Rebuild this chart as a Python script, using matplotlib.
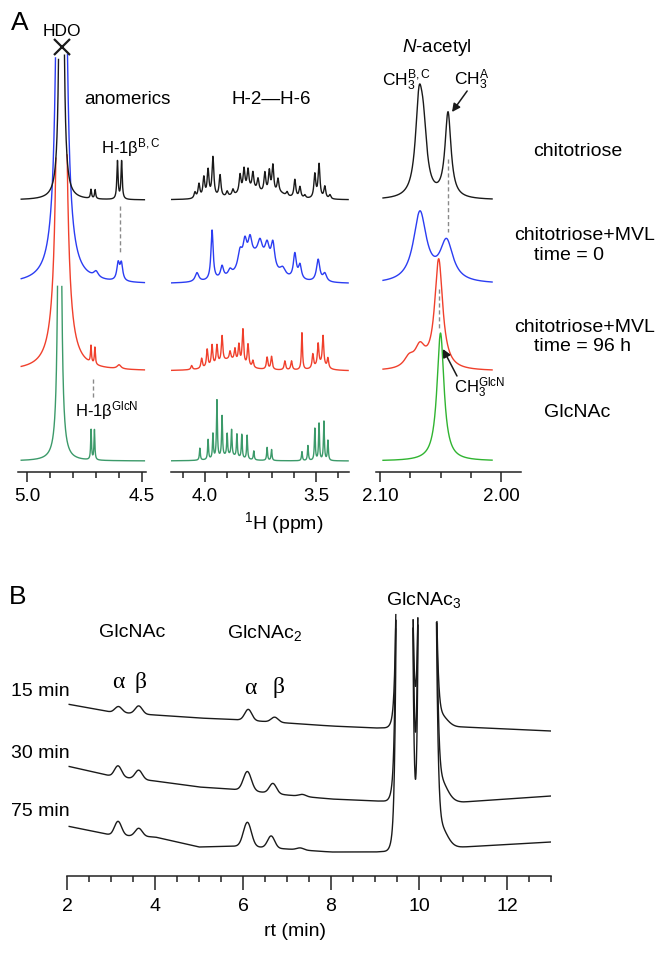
import numpy as np
import matplotlib.pyplot as plt

plt.rcParams['font.family'] = 'Liberation Sans'
plt.rcParams['mathtext.fontset'] = 'custom'
plt.rcParams['mathtext.rm'] = 'Liberation Sans'
plt.rcParams['mathtext.it'] = 'Liberation Sans:italic'
plt.rcParams['mathtext.bf'] = 'Liberation Sans:bold'

W, H = 669, 954

# ---------------- panel A: 1H NMR peak tables, (ppm, height, half width)
black_anom = [(4.850, 3000, 0.0029), (4.722, 9, 0.003), (4.704, 9, 0.003),
              (4.607, 38, 0.0032), (4.589, 38, 0.0032)]
black_sugar = [(4.045, 6, 0.005), (4.027, 14, 0.005), (4.005, 20, 0.005), (3.986, 27, 0.005),
               (3.964, 40, 0.005), (3.932, 22, 0.005), (3.900, 5, 0.005), (3.874, 6, 0.005),
               (3.842, 18, 0.005), (3.824, 22, 0.005), (3.806, 20, 0.005), (3.784, 17, 0.005),
               (3.761, 12, 0.005), (3.730, 20, 0.005), (3.710, 22, 0.005), (3.694, 28, 0.005),
               (3.671, 14, 0.005), (3.630, 4, 0.005), (3.595, 18, 0.005), (3.572, 11, 0.005),
               (3.550, 3, 0.005), (3.505, 24, 0.005), (3.486, 34, 0.005), (3.460, 12, 0.005),
               (3.437, 4, 0.005), (3.790, 9, 0.07), (3.66, 4, 0.03)]
black_nac = [(2.0678, 86, 0.0035), (2.0642, 54, 0.0035), (2.0438, 85, 0.0030)]

blue_anom = [(4.850, 5000, 0.0057), (4.700, 6, 0.012), (4.604, 17, 0.007), (4.590, 17, 0.007)]
blue_sugar = [(3.770, 26, 0.070), (4.036, 9, 0.010), (3.968, 50, 0.006), (3.923, 12, 0.008),
              (3.887, 6, 0.010), (3.842, 18, 0.012), (3.820, 22, 0.010), (3.797, 20, 0.010),
              (3.752, 16, 0.012), (3.720, 20, 0.012), (3.694, 26, 0.010), (3.650, 8, 0.015),
              (3.595, 25, 0.008), (3.572, 14, 0.008), (3.490, 22, 0.009), (3.460, 8, 0.010)]
blue_nac = [(2.067, 70, 0.0065), (2.045, 40, 0.0065)]

red_anom = [(4.850, 2500, 0.0075), (4.722, 17, 0.0025), (4.705, 17, 0.0025), (4.600, 4, 0.01)]
red_sugar = [(4.060, 4, 0.004), (4.015, 10, 0.004), (3.990, 18, 0.004), (3.968, 21, 0.004),
             (3.946, 19, 0.004), (3.923, 26, 0.004), (3.887, 8, 0.004), (3.865, 12, 0.004),
             (3.847, 18, 0.004), (3.829, 35, 0.004), (3.806, 22, 0.004), (3.784, 7, 0.004),
             (3.720, 12, 0.004), (3.700, 13, 0.004), (3.640, 9, 0.004), (3.610, 9, 0.004),
             (3.563, 37, 0.003), (3.514, 14, 0.004), (3.490, 22, 0.004), (3.468, 30, 0.004),
             (3.446, 10, 0.004), (3.890, 11, 0.06), (3.48, 5, 0.03)]
red_nac = [(2.0515, 110, 0.004), (2.067, 20, 0.005), (2.076, 10, 0.005)]

green_anom = [(4.858, 600, 0.006), (4.7215, 30, 0.0022), (4.707, 30, 0.0022)]
green_sugar = [(4.023, 12, 0.0025), (3.986, 20, 0.0025), (3.964, 25, 0.0025), (3.946, 58, 0.0025),
               (3.923, 41, 0.0025), (3.900, 22, 0.0025), (3.880, 26, 0.0025), (3.856, 23, 0.0025),
               (3.834, 24, 0.0025), (3.810, 24, 0.0025), (3.780, 9, 0.0025), (3.720, 13, 0.0025),
               (3.700, 11, 0.0025), (3.563, 9, 0.0025), (3.536, 15, 0.0025), (3.505, 32, 0.0025),
               (3.486, 37, 0.0025), (3.464, 39, 0.0025), (3.446, 20, 0.0025), (3.890, 5, 0.05)]
green_nac = [(2.050, 128, 0.0035)]

sample_labels = ['chitotriose', 'chitotriose+MVL', 'chitotriose+MVL', 'GlcNAc']

# ---------------- panel B: HPLC, baseline read at rt_anchor plus peaks (rt, height, sigma)
rt_anchor = [2.0, 3.0, 4.0, 5.0, 6.0, 7.0, 8.0, 9.0, 11.0, 13.0]
base_15 = [172, 164, 161, 158, 156, 153, 150, 148, 149, 145]
base_30 = [110, 100, 95, 89, 86, 81, 77, 75, 74, 80]
base_75 = [50, 41, 39, 29, 30, 27, 24, 24, 29, 34]
peaks_15 = [(3.17, 6, 0.08), (3.63, 8, 0.08), (6.12, 11, 0.08), (6.72, 5, 0.08),
            (9.45, 8, 0.08), (10.45, 14, 0.17)]
peaks_30 = [(3.16, 11, 0.08), (3.63, 9, 0.08), (6.10, 19, 0.09), (6.68, 10, 0.08), (7.35, 2, 0.08),
            (9.45, 12, 0.08), (10.45, 24, 0.17)]
peaks_75 = [(3.16, 14, 0.08), (3.63, 8, 0.08), (6.10, 24, 0.09), (6.64, 12, 0.08), (7.30, 2, 0.08),
            (9.45, 12, 0.08), (10.45, 24, 0.17)]
# GlcNAc3 doublet: (rt, height, sigma left, sigma right)
big_15 = [(9.67, 1550, 0.085, 0.085), (10.17, 1550, 0.085, 0.1)]
big_30 = [(9.67, 2610, 0.085, 0.085), (10.17, 2610, 0.085, 0.1)]
big_75 = [(9.67, 2650, 0.085, 0.085), (10.17, 2650, 0.085, 0.1)]
time_labels = ['15 min', '30 min', '75 min']


def spectrum(x, peaks):
    y = np.zeros_like(x)
    for c, h, w in peaks:
        y += h / (1 + ((x - c) / w) ** 2)
    return y


def chromatogram(x, base, peaks, big):
    y = np.interp(x, rt_anchor, base)
    for c, h, s in peaks:
        y += h * np.exp(-(x - c) ** 2 / (2 * s ** 2))
    for c, h, sl, sr in big:
        s = np.where(x < c, sl, sr)
        y += h * np.exp(-(x - c) ** 2 / (2 * s ** 2))
    return y


def axes_px(x0, x1, y_top, y_bot):
    return fig.add_axes([x0 / W, 1 - y_bot / H, (x1 - x0) / W, (y_bot - y_top) / H])


def label(x, y, s, **kw):
    kw.setdefault('ha', 'center')
    kw.setdefault('va', 'center')
    fig.text(x / W, 1 - y / H, s, **kw)


def style_axis(ax, major, minor, labels, size, major_len, minor_len, pad):
    for side in ['left', 'right', 'top']:
        ax.spines[side].set_visible(False)
    ax.spines['bottom'].set_linewidth(1.1)
    ax.spines['bottom'].set_color('#222222')
    ax.set_yticks([])
    ax.set_xticks(major)
    ax.set_xticklabels(labels)
    ax.set_xticks(minor, minor=True)
    ax.tick_params(axis='x', which='major', length=major_len, width=1.1, color='#222222',
                   labelsize=size, pad=pad)
    ax.tick_params(axis='x', which='minor', length=minor_len, width=1.1, color='#222222')
    ax.patch.set_alpha(0)


fig = plt.figure(figsize=(W / 100, H / 100), dpi=100)

# panel A axes (y units = pixels above the axis line)
ax1 = axes_px(18, 146, 20, 473)
ax2 = axes_px(171, 349, 20, 473)
ax3 = axes_px(376, 521, 20, 473)
ax1.set_xlim(5.039, 4.483)
ax2.set_xlim(4.153, 3.351)
ax3.set_xlim(2.1033, 1.9835)
for ax in (ax1, ax2, ax3):
    ax.set_ylim(0, 453)

colors = ['#1a1a1a', '#2b3df2', '#f0402c', '#3c9a6a']
nac_colors = ['#1a1a1a', '#2b3df2', '#f0402c', '#30b431']
offsets = [272, 188, 101, 11]
clips = [418, 418, 318, 186]
tables = [(black_anom, black_sugar, black_nac), (blue_anom, blue_sugar, blue_nac),
          (red_anom, red_sugar, red_nac), (green_anom, green_sugar, green_nac)]

x1 = np.linspace(5.025, 4.49, 2000)
x2 = np.linspace(4.15, 3.355, 2000)
x3 = np.linspace(2.0975, 2.0074, 1500)
for i in range(3, -1, -1):
    anom, sugar, nac = tables[i]
    for ax, x, pk, col in ((ax1, x1, anom, colors[i]), (ax2, x2, sugar, colors[i]),
                           (ax3, x3, nac, nac_colors[i])):
        y = offsets[i] + spectrum(x, pk)
        y[y > clips[i]] = np.nan
        ax.plot(x, y, color=col, lw=1.0)

style_axis(ax1, [5.0, 4.5], [4.9, 4.8, 4.7, 4.6], ['5.0', '4.5'], 13.5, 7, 4.3, 4)
style_axis(ax2, [4.0, 3.5], [4.1, 3.9, 3.8, 3.7, 3.6, 3.4], ['4.0', '3.5'], 13.5, 7, 4.3, 4)
style_axis(ax3, [2.10, 2.00], [2.075, 2.05, 2.025], ['2.10', '2.00'], 13.5, 7, 4.3, 4)

dash = dict(color='#8a8a8a', lw=1.0, ls=(0, (3, 2)))
ax1.plot([4.598, 4.598], [266, 220], **dash)
ax1.plot([4.713, 4.713], [93, 73], **dash)
ax3.plot([2.044, 2.044], [313, 240], **dash)
ax3.plot([2.051, 2.051], [183, 143], **dash)
ax1.plot([4.850], [425], marker='x', ms=12, mew=1.6, color='#1a1a1a', clip_on=False)

arrow = dict(arrowstyle='-|>', color='#1a1a1a', lw=1.1, mutation_scale=12, shrinkA=0, shrinkB=0)
ax3.annotate('', xy=(2.0405, 360), xytext=(2.028, 381), arrowprops=arrow, annotation_clip=False)
ax3.annotate('', xy=(2.048, 123), xytext=(2.0364, 96), arrowprops=arrow, annotation_clip=False)

label(20, 23, 'A', fontsize=19)
label(62, 32, 'HDO', fontsize=12.5)
label(127, 100, 'anomerics', fontsize=13.5)
label(271, 100, 'H-2\u2014H-6', fontsize=13.5)
label(437, 48, r'$\it{N}$-acetyl', fontsize=13.5)
label(407, 80, r'CH$_3^{\mathrm{B,C}}$', fontsize=12.5)
label(472, 80, r'CH$_3^{\mathrm{A}}$', fontsize=12.5)
label(131, 148, r'H-1$\mathrm{\beta}^{\mathrm{B,C}}$', fontsize=12)
label(107, 411, r'H-1$\mathrm{\beta}^{\mathrm{GlcN}}$', fontsize=12)
label(480, 388, r'CH$_3^{\mathrm{GlcN}}$', fontsize=12)
label(578, 152, sample_labels[0], fontsize=14)
label(585, 235, sample_labels[1], fontsize=14)
label(569, 256, 'time = 0', fontsize=14)
label(585, 327, sample_labels[2], fontsize=14)
label(583, 347, 'time = 96 h', fontsize=14)
label(577, 413, sample_labels[3], fontsize=14)
label(284, 523, r'$^{1}$H (ppm)', fontsize=14)

# panel B
axb = axes_px(67, 551, 580, 877)
axb.set_xlim(2, 13)
axb.set_ylim(0, 297)
rt = np.linspace(2.05, 13.0, 3000)
clip_b = 262
for base, pk, big in ((base_15, peaks_15, big_15), (base_30, peaks_30, big_30),
                      (base_75, peaks_75, big_75)):
    y = chromatogram(rt, base, pk, big)
    y[y > clip_b] = np.nan
    axb.plot(rt, y, color='#1a1a1a', lw=1.0)

style_axis(axb, [2, 4, 6, 8, 10, 12], np.arange(2.5, 13.01, 0.5),
           ['2', '4', '6', '8', '10', '12'], 14, 10, 4.5, 5)

label(18, 597, 'B', fontsize=19)
label(132, 633, 'GlcNAc', fontsize=14)
label(265, 633, r'GlcNAc$_2$', fontsize=14)
label(424, 600, r'GlcNAc$_3$', fontsize=14)
for xa, xb_, ya in ((118, 140, 683), (250, 278, 688)):
    label(xa, ya, '\u03b1', fontsize=17, family='Liberation Serif')
    label(xb_, ya, '\u03b2', fontsize=17, family='Liberation Serif')
label(40, 692, time_labels[0], fontsize=14)
label(40, 753, time_labels[1], fontsize=14)
label(40, 812, time_labels[2], fontsize=14)
label(295, 932, 'rt (min)', fontsize=14)

fig.savefig('out.png', dpi=100)
